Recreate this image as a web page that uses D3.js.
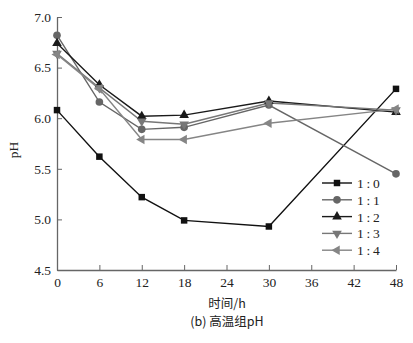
<!DOCTYPE html>
<html><head><meta charset="utf-8">
<script src="https://cdn.jsdelivr.net/npm/d3@7"></script>
<style>body{margin:0;background:#fff}svg{display:block}</style>
</head><body>
<svg id="c" width="413" height="343"></svg>
<script>
const hours = [0, 6, 12, 18, 30, 48];
const seriesNames = ["1\u2009:\u20090", "1\u2009:\u20091", "1\u2009:\u20092", "1\u2009:\u20093", "1\u2009:\u20094"];
const s10 = [6.08, 5.62, 5.22, 4.99, 4.93, 6.29];
const s11 = [6.82, 6.16, 5.89, 5.91, 6.13, 5.45];
const s12 = [6.74, 6.33, 6.02, 6.03, 6.17, 6.06];
const s13 = [6.64, 6.30, 5.97, 5.94, 6.15, 6.08];
const s14 = [6.63, 6.29, 5.79, 5.79, 5.95, 6.09];
const xTicks = [0, 6, 12, 18, 24, 30, 36, 42, 48];
const yTicks = [4.5, 5.0, 5.5, 6.0, 6.5, 7.0];

const seriesVals = [s10, s11, s12, s13, s14];
const colors = ["#111", "#666", "#1a1a1a", "#777", "#858585"];
const symbols = [d3.symbolSquare, d3.symbolCircle, d3.symbolTriangle, d3.symbolTriangle, d3.symbolTriangle];
const rotations = [0, 0, 0, 180, -90];
const symSizes = [42, 46, 40, 40, 40];

const svg = d3.select("#c");
const x = d3.scaleLinear().domain([0, 48]).range([57, 396]);
const y = d3.scaleLinear().domain([4.5, 7.0]).range([270, 17]);
const axisColor = "#666";
const font = "'Liberation Serif', 'Times New Roman', serif";

// axes
const gx = svg.append("g").attr("transform", "translate(0,270)")
  .call(d3.axisBottom(x).tickValues(xTicks).tickSizeInner(-5).tickSizeOuter(0).tickPadding(7).tickFormat(d3.format("d")));
const gy = svg.append("g").attr("transform", "translate(57,0)")
  .call(d3.axisLeft(y).tickValues(yTicks).tickSizeInner(-5).tickSizeOuter(0).tickPadding(6).tickFormat(d3.format(".1f")));
[gx, gy].forEach(g => {
  g.select(".domain").attr("stroke", axisColor).attr("stroke-width", 1.3);
  g.selectAll(".tick line").attr("stroke", axisColor).attr("stroke-width", 1);
  g.selectAll("text").attr("fill", "#222").style("font-family", font).style("font-size", "13.5px");
});

// lines and markers
const line = d3.line().x((d, i) => x(hours[i])).y(d => y(d));
seriesVals.forEach((vals, k) => {
  svg.append("path").datum(vals).attr("d", line)
    .attr("fill", "none").attr("stroke", colors[k]).attr("stroke-width", 1.4);
});
seriesVals.forEach((vals, k) => {
  svg.append("g").selectAll("path").data(vals).join("path")
    .attr("d", d3.symbol().type(symbols[k]).size(symSizes[k]))
    .attr("transform", (d, i) => `translate(${x(hours[i])},${y(d)}) rotate(${rotations[k]})`)
    .attr("fill", colors[k]);
});

// legend
const lg = svg.append("g");
seriesNames.forEach((name, k) => {
  const ly = 183 + k * 16.8;
  lg.append("line").attr("x1", 322).attr("x2", 352).attr("y1", ly).attr("y2", ly)
    .attr("stroke", colors[k]).attr("stroke-width", 1.4);
  lg.append("path").attr("d", d3.symbol().type(symbols[k]).size(symSizes[k])())
    .attr("transform", `translate(337,${ly}) rotate(${rotations[k]})`).attr("fill", colors[k]);
  lg.append("text").attr("x", 357).attr("y", ly + 5).text(name)
    .style("font-family", font).style("font-size", "13.5px").attr("fill", "#222");
});

// labels
svg.append("text").attr("transform", "translate(18,150) rotate(-90)").attr("text-anchor", "middle")
  .text("pH").style("font-family", font).style("font-size", "13.5px").attr("fill", "#222");
svg.append("text").attr("x", 227).attr("y", 308).attr("text-anchor", "middle")
  .text("时间/h").style("font-family", "'Noto Sans CJK SC', " + font).style("font-size", "12.5px").attr("fill", "#222");
svg.append("text").attr("x", 227).attr("y", 326).attr("text-anchor", "middle")
  .text("(b) 高温组pH").style("font-family", "'Noto Sans CJK SC', " + font).style("font-size", "12.5px").attr("fill", "#222");
</script>
</body></html>
